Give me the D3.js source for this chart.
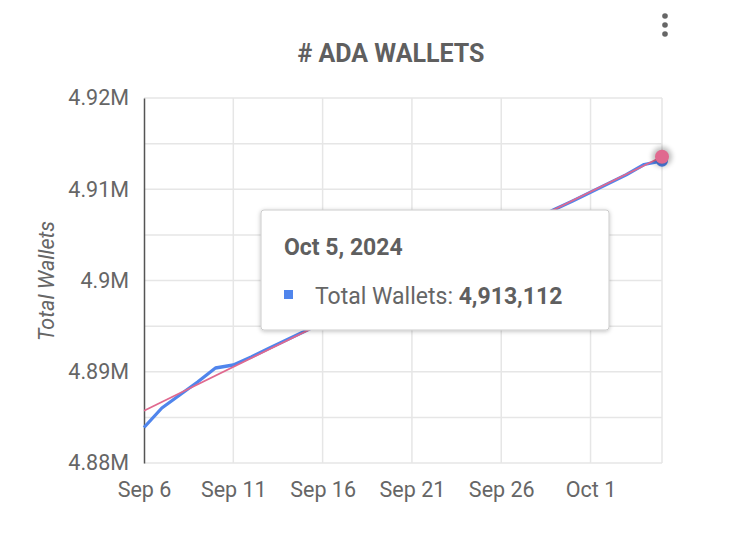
<!DOCTYPE html>
<html><head><meta charset="utf-8">
<script src="https://cdn.jsdelivr.net/npm/d3@7"></script>
<style>
html,body{margin:0;padding:0;background:#fff;}
svg{display:block;font-family:Roboto,"Noto Sans",sans-serif;}
</style></head>
<body>
<svg id="chart" width="740" height="550"></svg>
<script>
const chartTitle = "# ADA WALLETS";
const yAxisTitle = "Total Wallets";
const seriesName = "Total Wallets";
const dates = d3.timeDays(new Date(2024,8,6), new Date(2024,9,6));
const walletValues = [4883890,4886027,4887452,4888877,4890411,4890740,4891616,4892570,4893501,4894444,
  4895397,4896329,4897282,4898236,4899178,4900131,4901085,4902038,4903003,4903967,
  4904932,4905907,4906861,4907803,4908723,4909666,4910619,4911584,4912712,4913112];
const trendStartEnd = [4885731, 4913567];
const yTicks = [4880000,4890000,4900000,4910000,4920000];
const yMinorTicks = [4885000,4895000,4905000,4915000];
const xTickDates = [new Date(2024,8,6),new Date(2024,8,11),new Date(2024,8,16),new Date(2024,8,21),new Date(2024,8,26),new Date(2024,9,1)];
const tooltipDate = "Oct 5, 2024";

const svg = d3.select("#chart");
const pL=144, pR=662, pT=98, pB=463;
const x = d3.scaleTime().domain([dates[0], dates[dates.length-1]]).range([pL,pR]);
const y = d3.scaleLinear().domain([4880000,4920000]).range([pB,pT]);
const textCol = "#666";

const defs = svg.append("defs");
const f = defs.append("filter").attr("id","shadow").attr("x","-20%").attr("y","-20%").attr("width","140%").attr("height","140%");
f.append("feDropShadow").attr("dx",0).attr("dy",1).attr("stdDeviation",2).attr("flood-color","#000").attr("flood-opacity",0.25);
const g2 = defs.append("filter").attr("id","halo").attr("x","-100%").attr("y","-100%").attr("width","300%").attr("height","300%");
g2.append("feGaussianBlur").attr("stdDeviation",2.5);

// gridlines
const grid = svg.append("g");
grid.selectAll("line.h").data(yTicks.concat(yMinorTicks)).join("line")
  .attr("x1",pL).attr("x2",pR).attr("y1",d=>y(d)).attr("y2",d=>y(d))
  .attr("stroke","#e6e6e6").attr("stroke-width",1.5);
grid.selectAll("line.v").data(xTickDates.slice(1).concat([dates[dates.length-1]])).join("line")
  .attr("x1",d=>x(d)).attr("x2",d=>x(d)).attr("y1",pT).attr("y2",pB)
  .attr("stroke","#e6e6e6").attr("stroke-width",1.5);

// y axis
const yAxis = d3.axisLeft(y).tickValues(yTicks).tickSize(0).tickPadding(15)
  .tickFormat(d=>d3.format(".3~f")(d/1e6)+"M");
const ya = svg.append("g").attr("transform",`translate(${pL},0)`).call(yAxis);
ya.select(".domain").attr("stroke","#555").attr("stroke-width",1.5);
ya.selectAll("text").attr("fill",textCol).attr("font-size",21.5).attr("font-family","Roboto");

// x axis
const xAxis = d3.axisBottom(x).tickValues(xTickDates).tickSize(0).tickPadding(19)
  .tickFormat(d3.timeFormat("%b %-d"));
const xa = svg.append("g").attr("transform",`translate(0,${pB})`).call(xAxis);
xa.select(".domain").remove();
xa.selectAll("text").attr("fill",textCol).attr("font-size",21.5).attr("font-family","Roboto");

// titles
svg.append("text").attr("x",391).attr("y",62).attr("text-anchor","middle")
  .attr("font-size",25).attr("font-weight","bold").attr("fill","#5f5f5f").text(chartTitle);
svg.append("text").attr("transform","translate(54,281) rotate(-90)").attr("text-anchor","middle")
  .attr("font-size",21.5).attr("font-style","italic").attr("fill",textCol).text(yAxisTitle);

// menu dots
svg.selectAll("circle.menu").data([16,25,34]).join("circle")
  .attr("cx",665).attr("cy",d=>d).attr("r",2.8).attr("fill","#666");

// series line
const line = d3.line().x((d,i)=>x(dates[i])).y(d=>y(d));
svg.append("path").datum(walletValues).attr("d",line).attr("fill","none")
  .attr("stroke","#5085ec").attr("stroke-width",3.3).attr("stroke-linejoin","round");
// trendline
const trendDates = [dates[0], dates[dates.length-1]];
svg.append("path").datum(trendStartEnd)
  .attr("d",d3.line().x((d,i)=>x(trendDates[i])).y(d=>y(d)))
  .attr("fill","none").attr("stroke","#e0698f").attr("stroke-width",1.8);

// focused points
const lastI = walletValues.length-1;
svg.append("circle").attr("cx",x(dates[lastI])).attr("cy",y(walletValues[lastI])).attr("r",6).attr("fill","#5085ec");
svg.append("circle").attr("cx",x(trendDates[1])).attr("cy",y(trendStartEnd[1])).attr("r",10)
  .attr("fill","#000").attr("opacity",0.25).attr("filter","url(#halo)");
svg.append("circle").attr("cx",x(trendDates[1])).attr("cy",y(trendStartEnd[1])).attr("r",7).attr("fill","#e0698f");

// tooltip
const tt = svg.append("g").attr("transform","translate(261,210)");
tt.append("rect").attr("width",348).attr("height",120).attr("rx",3).attr("fill","#fff")
  .attr("stroke","#cccccc").attr("stroke-width",1).attr("filter","url(#shadow)");
tt.append("text").attr("x",23).attr("y",45).attr("font-size",23).attr("font-weight","bold").attr("fill","#5f5f5f").text(tooltipDate);
tt.append("rect").attr("x",23).attr("y",80).attr("width",9).attr("height",9).attr("fill","#5085ec");
const t2 = tt.append("text").attr("x",54).attr("y",94).attr("font-size",23).attr("fill","#666");
t2.append("tspan").text(seriesName+": ");
t2.append("tspan").attr("font-weight","bold").attr("fill","#5f5f5f").text(d3.format(",")(walletValues[lastI]));
</script>
</body></html>
